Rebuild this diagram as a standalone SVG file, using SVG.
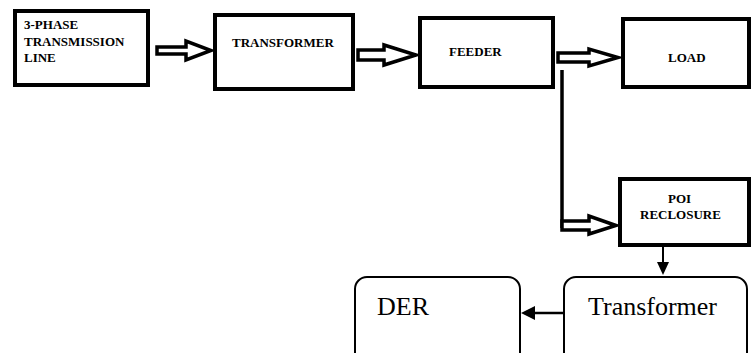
<svg xmlns="http://www.w3.org/2000/svg" width="752" height="353" viewBox="0 0 752 353">
<style>
.box{fill:#fff;stroke:#000;stroke-width:4}
.rbox{fill:#fff;stroke:#000;stroke-width:2}
.bt{font-family:"Liberation Serif",serif;font-weight:bold;font-size:13px;fill:#000}
.nt{font-family:"Liberation Serif",serif;font-size:26px;fill:#000}
.harrow{fill:#fff;stroke:#000;stroke-width:3.5;stroke-linejoin:miter}
.line{stroke:#000;fill:none}
</style>
<rect width="752" height="353" fill="#fff"/>
<g id="connectors">
<polygon class="harrow" points="157,47 186,47 186,41 211,50.5 186,60 186,54 157,54"/>
<polygon class="harrow" points="358,50 384,50 384,45 416,55 384,65 384,60 358,60"/>
<polygon class="harrow" points="558,53 589,53 589,49 618,57.5 589,66 589,62 558,62"/>
<line class="line" x1="562" y1="70" x2="562" y2="228" stroke-width="3.5"/>
<polygon class="harrow" points="562,221 589,221 589,216 616,225.5 589,234 589,230 562,230"/>
<line class="line" x1="663" y1="247" x2="663" y2="263" stroke-width="2"/>
<polygon points="657,262 669,262 663,275" fill="#000"/>
<line class="line" x1="563" y1="313" x2="533" y2="313" stroke-width="2.5"/>
<polygon points="535,306 535,320 521,313" fill="#000"/>
</g>
<g id="node-3phase">
<rect class="box" x="15" y="11" width="133" height="74"/>
<text class="bt" x="24" y="29">3-PHASE</text>
<text class="bt" x="24" y="46">TRANSMISSION</text>
<text class="bt" x="24" y="62">LINE</text>
</g>
<g id="node-transformer1">
<rect class="box" x="215" y="15" width="138" height="74"/>
<text class="bt" x="232" y="47">TRANSFORMER</text>
</g>
<g id="node-feeder">
<rect class="box" x="420" y="18" width="133" height="69"/>
<text class="bt" x="449" y="56">FEEDER</text>
</g>
<g id="node-load">
<rect class="box" x="623" y="19" width="126" height="68"/>
<text class="bt" x="668" y="62">LOAD</text>
</g>
<g id="node-poi">
<rect class="box" x="620" y="179" width="129" height="66"/>
<text class="bt" x="668" y="203">POI</text>
<text class="bt" x="640" y="219">RECLOSURE</text>
</g>
<g id="node-der">
<rect class="rbox" x="355" y="277" width="165" height="100" rx="12"/>
<text class="nt" x="377" y="315">DER</text>
</g>
<g id="node-transformer2">
<rect class="rbox" x="564" y="277" width="183" height="100" rx="12"/>
<text class="nt" x="588" y="315">Transformer</text>
</g>
</svg>
